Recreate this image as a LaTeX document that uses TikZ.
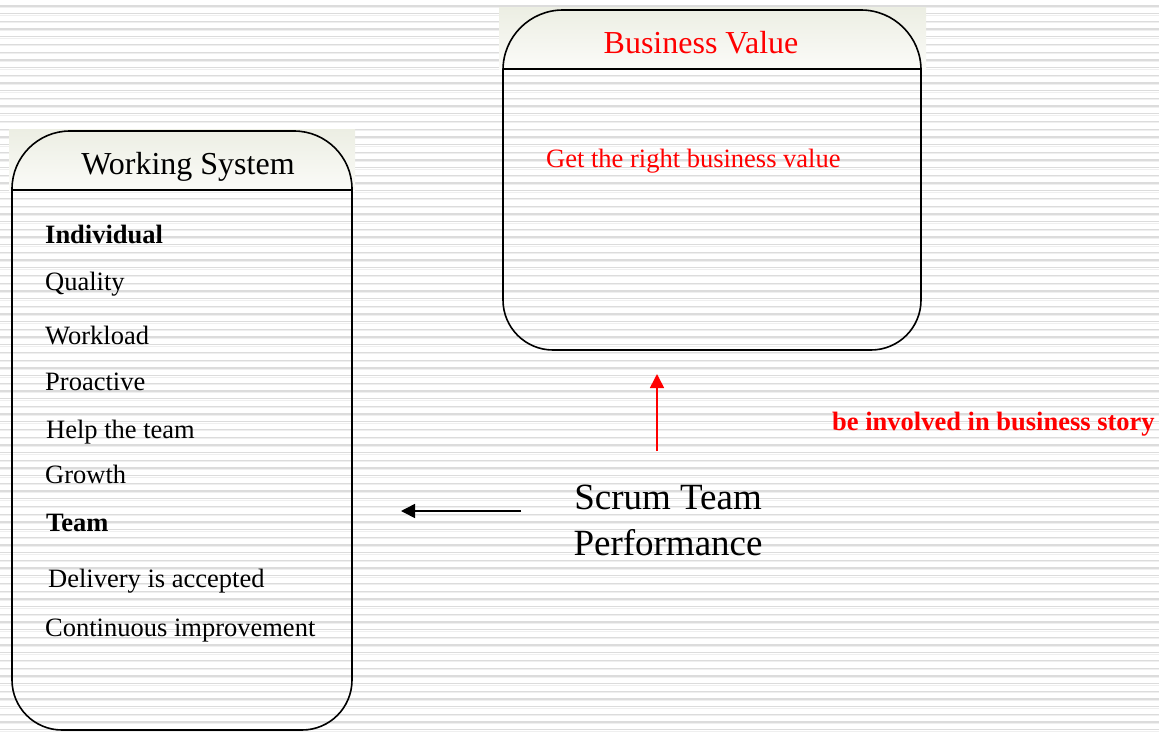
\documentclass[tikz,border=0pt]{standalone}
\usepackage{fontspec}
\setmainfont{Liberation Serif}
\usetikzlibrary{arrows.meta}
\definecolor{stripegray}{HTML}{DCDCDC}
\definecolor{stripelight}{HTML}{EFEFEF}
\definecolor{headtop}{HTML}{ECEEE3}
\definecolor{headbottom}{HTML}{FBFBF8}
\begin{document}
\begin{tikzpicture}[
            x=1pt, y=-1pt,
            stripe/.style = {draw=stripegray, line width=1.3pt},
            stripelow/.style = {draw=stripelight, line width=1pt},
            header/.style = {top color=headtop, bottom color=headbottom, draw=none},
            frame/.style = {draw=black, line width=1.6pt},
            item/.style = {anchor=base west, inner sep=0pt, font=\fontsize{26.5}{30}\selectfont},
            title/.style = {anchor=base, inner sep=0pt, font=\fontsize{32}{36}\selectfont},
            arrow/.style = {line width=1.6pt, -{Triangle[length=14pt, width=14pt]}}
          ]
          \useasboundingbox (0,0) rectangle (1159,731);
          % striped background
          \foreach \i in {0,...,94} {
            \pgfmathsetmacro{\ypos}{6+7.7*\i}
            \draw[stripe] (0,\ypos) -- (1159,\ypos);
            \draw[stripelow] (0,\ypos+1.4) -- (1159,\ypos+1.4);
          }
          % Business Value box
          \fill[header] (499,7) rectangle (926,69);
          \draw[frame, rounded corners=60pt] (503,200) |- (712,10) -| (921,200);
          \draw[frame, rounded corners=50pt] (921,200) |- (712,350) -| (503,200);
          \draw[frame] (503,69) -- (921,69);
          \node[title, text=red] (bvtitle) at (701,53) {Business Value};
          \node[item, text=red] (bvtext) at (546,167) {Get the right business value};
          % Working System box
          \fill[header] (9,129) rectangle (355,190);
          \draw[frame, rounded corners=58pt] (12,400) |- (182,131) -| (352,400);
          \draw[frame, rounded corners=50pt] (352,400) |- (182,730) -| (12,400);
          \draw[frame] (12,190) -- (352,190);
          \node[title] (wstitle) at (188,174) {Working System};
          \node[item, font=\fontsize{26.5}{30}\selectfont\bfseries] (indiv) at (45,243) {Individual};
          \node[item] (quality) at (45,290) {Quality};
          \node[item] (workload) at (45,344) {Workload};
          \node[item] (proactive) at (45,390) {Proactive};
          \node[item] (help) at (46,438) {Help the team};
          \node[item] (growth) at (45,483) {Growth};
          \node[item, font=\fontsize{26.5}{30}\selectfont\bfseries] (team) at (46,531) {Team};
          \node[item] (delivery) at (48,587) {Delivery is accepted};
          \node[item] (improve) at (45,636) {Continuous improvement};
          % Scrum Team Performance
          \node[align=center, inner sep=0pt, font=\fontsize{37}{46}\selectfont] (scrum) at (668,520) {Scrum Team\\Performance};
          \node[item, text=red, font=\fontsize{26.5}{30}\selectfont\bfseries] (involved) at (832,430) {be involved in business story};
          \coordinate (upstart) at (657,451);
          \coordinate (upend) at (657,374);
          \coordinate (leftstart) at (521,511);
          \coordinate (leftend) at (401,511);
          \draw[arrow, red] (upstart) -- (upend);
          \draw[arrow] (leftstart) -- (leftend);
        \end{tikzpicture}
\end{document}
